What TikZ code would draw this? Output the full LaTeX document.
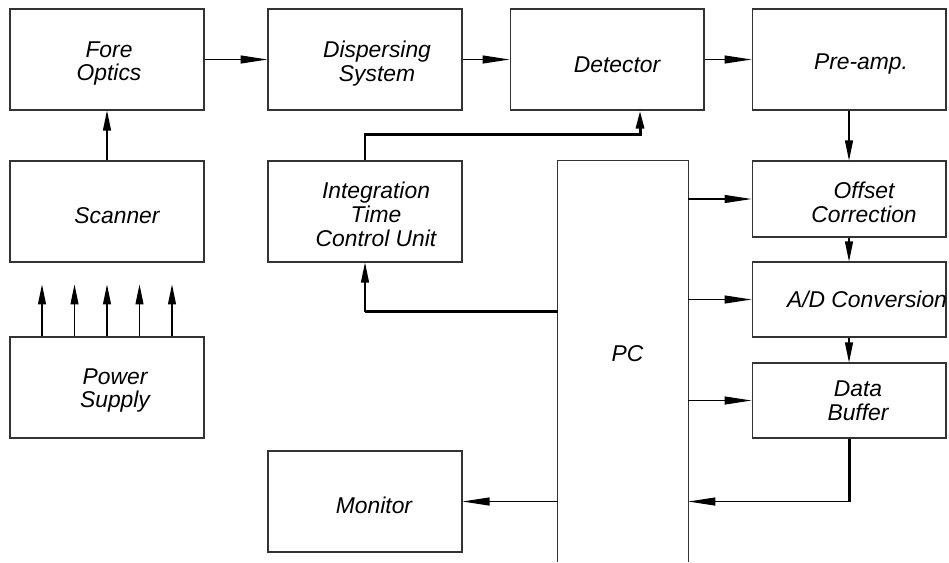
\documentclass[tikz,border=0pt]{standalone}
\usepackage{fontspec}
\setmainfont{Liberation Sans}
\usetikzlibrary{arrows.meta,calc}
\tikzset{
  blk/.style={draw=black!80,line width=0.6pt,minimum width=3.88cm,minimum height=2.02cm,inner sep=0pt},
  txt/.style={align=center,font=\fontsize{13}{13.5}\selectfont\itshape,inner sep=0pt},
  lnk/.style={line width=0.6pt,-{Triangle[length=0.54cm,width=0.16cm]}},
  vlnk/.style={line width=0.6pt,-{Triangle[length=0.4cm,width=0.16cm]}},
  bus/.style={line width=1.7pt},
}
\begin{document}
\begin{tikzpicture}[x=0.02cm,y=-0.02cm]
  \useasboundingbox (0,0) rectangle (949,562);
  \node[blk] (fo) at (107,59.5) {};
  \node[blk] (ds) at (365,59.5) {};
  \node[blk] (det) at (607,59.5) {};
  \node[blk] (pre) at (849,59.5) {};
  \node[blk] (sc) at (107,211.5) {};
  \node[blk] (itc) at (365,211.5) {};
  \node[blk] (ps) at (107,387.5) {};
  \node[blk] (mon) at (365,501.5) {};
  \node[blk,minimum height=1.52cm] (oc) at (849,199) {};
  \node[blk,minimum height=1.5cm] (ad) at (849,299.5) {};
  \node[blk,minimum height=1.5cm] (db) at (849,400.5) {};
  \node[minimum width=2.6cm,minimum height=8.02cm,inner sep=0pt] (pc) at (623,361.5) {};
  \draw[black!80,line width=0.6pt] (pc.south west) -- (pc.north west) -- (pc.north east) -- (pc.south east);
  \foreach \n/\dx/\dy/\t in {fo/2/4/{Fore\\Optics}, ds/12/4/{Dispersing\\System},
    det/10/5/Detector, pre/12/5/Pre-amp., sc/10/4/Scanner,
    itc/11/3/{Integration\\Time\\Control Unit}, ps/8/3/{Power\\Supply},
    mon/9/4/Monitor, oc/15/3/{Offset\\Correction}, ad/18/0/{A/D Conversion},
    db/9/0/{Data\\Buffer}}
    \node[txt] (\n-t) at ($(\n)+(\dx,\dy)$) {\t};
  \node[txt] (pc-t) at (627.5,354) {PC};

  \draw[lnk] (fo) -- (ds);
  \draw[lnk] (ds) -- (det);
  \draw[lnk] (det) -- (pre);
  \draw[vlnk] (sc) -- (fo);
  \draw[vlnk] (pre) -- (oc);
  \draw[vlnk] (oc) -- (ad);
  \draw[vlnk] (ad) -- (db);
  \foreach \dx in {-65,-32.5,0,32.5,65}
    \draw[vlnk] ($(ps.north)+(\dx,0)$) -- ++(0,-52);
  \foreach \n in {oc,ad,db}
    \draw[lnk] (pc.east |- \n) -- (\n);

  \draw[bus,-{Triangle[length=0.36cm,width=0.16cm]}] (itc.north) -- ++(0,-26) -| ($(det.south)+(33,0)$);
  \coordinate (pcl) at ($(pc.north west)+(0,151)$);
  \draw[bus] (pcl) -- (pcl -| itc.south) coordinate (itcb);
  \draw[vlnk] (itcb) -- (itc.south);
  \draw[bus] (db.south) -- ++(0,63) coordinate (dbb);
  \draw[lnk] (dbb) -- (pc.east |- dbb);
  \draw[lnk] (pc.west |- mon) -- (mon);
\end{tikzpicture}
\end{document}
